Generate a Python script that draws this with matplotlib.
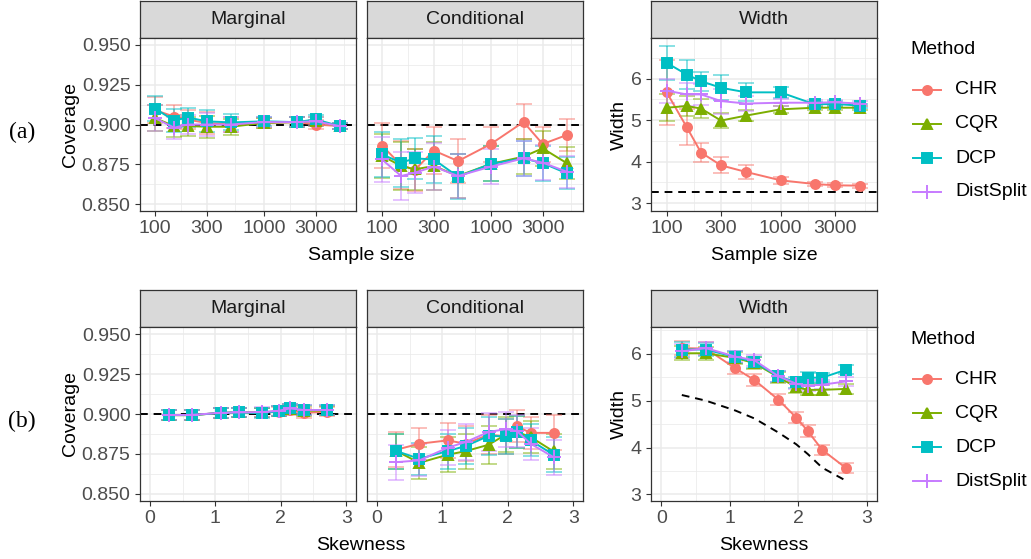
import numpy as np
import matplotlib.pyplot as plt
from matplotlib.lines import Line2D

plt.rcParams['font.family'] = ['Liberation Sans', 'DejaVu Sans']

# Méthodes et styles
methods = ['CHR', 'CQR', 'DCP', 'DistSplit']
colors = ['#F8766D', '#7CAE00', '#00BFC4', '#C77CFF']
markers = ['o', '^', 's', '+']

# (a) Taille d'échantillon
sample_size = [100, 150, 200, 300, 500, 1000, 2000, 3000, 5000]

a_marg = {
    'CHR': [0.909, 0.905, 0.903, 0.901, 0.900, 0.901, 0.9015, 0.900, 0.899],
    'CQR': [0.904, 0.899, 0.899, 0.8986, 0.8986, 0.901, 0.9015, 0.902, 0.899],
    'DCP': [0.910, 0.9025, 0.9044, 0.902, 0.9013, 0.902, 0.9015, 0.9032, 0.899],
    'DistSplit': [0.904, 0.898, 0.900, 0.900, 0.900, 0.9015, 0.9015, 0.902, 0.899],
}
a_marg_err = [0.008, 0.007, 0.006, 0.007, 0.005, 0.003, 0.003, 0.003, 0.002]

a_cond = {
    'CHR': [0.8867, 0.8745, 0.8714, 0.8836, 0.877, 0.8877, 0.9016, 0.8877, 0.8934],
    'CQR': [0.8802, 0.874, 0.8718, 0.8739, 0.8676, 0.8752, 0.8798, 0.885, 0.8757],
    'DCP': [0.8812, 0.876, 0.8787, 0.878, 0.8672, 0.8752, 0.8787, 0.8757, 0.8693],
    'DistSplit': [0.878, 0.8676, 0.8697, 0.8735, 0.8676, 0.8735, 0.8787, 0.876, 0.8703],
}
a_cond_err = [0.014, 0.015, 0.013, 0.015, 0.014, 0.011, 0.011, 0.011, 0.010]

a_width = {
    'CHR': [5.67, 4.83, 4.22, 3.91, 3.75, 3.55, 3.46, 3.43, 3.42],
    'CQR': [5.30, 5.34, 5.28, 4.99, 5.11, 5.26, 5.30, 5.30, 5.30],
    'DCP': [6.38, 6.10, 5.94, 5.78, 5.67, 5.67, 5.38, 5.39, 5.35],
    'DistSplit': [5.71, 5.62, 5.62, 5.46, 5.40, 5.42, 5.42, 5.43, 5.40],
}
a_width_err = {
    'CHR': [0.78, 0.44, 0.23, 0.19, 0.16, 0.08, 0.05, 0.05, 0.05],
    'CQR': [0.32, 0.24, 0.22, 0.18, 0.14, 0.08, 0.05, 0.05, 0.05],
    'DCP': [0.41, 0.36, 0.23, 0.30, 0.22, 0.13, 0.06, 0.06, 0.05],
    'DistSplit': [0.29, 0.27, 0.26, 0.30, 0.18, 0.08, 0.06, 0.06, 0.06],
}
a_oracle = 3.28

# (b) Asymétrie
skewness = [0.30, 0.65, 1.08, 1.36, 1.71, 1.97, 2.14, 2.35, 2.70]

b_marg = {
    'CHR': [0.8993, 0.8993, 0.9007, 0.901, 0.901, 0.9015, 0.9025, 0.9007, 0.9015],
    'CQR': [0.8993, 0.8993, 0.9007, 0.901, 0.901, 0.9018, 0.9030, 0.9020, 0.9022],
    'DCP': [0.8993, 0.8993, 0.9007, 0.901, 0.9005, 0.9018, 0.9035, 0.9025, 0.9025],
    'DistSplit': [0.8993, 0.8995, 0.9007, 0.901, 0.9012, 0.9020, 0.9035, 0.9025, 0.9025],
}
b_marg_err = [0.003] * 9

b_cond = {
    'CHR': [0.8777, 0.8814, 0.8835, 0.8814, 0.8871, 0.886, 0.8923, 0.8882, 0.8882],
    'CQR': [0.8768, 0.8695, 0.8745, 0.8768, 0.8808, 0.8871, 0.8888, 0.8856, 0.8766],
    'DCP': [0.8768, 0.872, 0.8768, 0.880, 0.8863, 0.886, 0.8888, 0.8835, 0.8745],
    'DistSplit': [0.8699, 0.871, 0.8789, 0.8825, 0.8888, 0.8905, 0.8894, 0.8814, 0.873],
}
b_cond_err = [0.011, 0.010, 0.011, 0.011, 0.012, 0.011, 0.010, 0.010, 0.011]

b_width = {
    'CHR': [6.12, 6.11, 5.69, 5.44, 5.02, 4.64, 4.35, 3.95, 3.56],
    'CQR': [6.01, 6.01, 5.91, 5.80, 5.50, 5.29, 5.23, 5.23, 5.25],
    'DCP': [6.09, 6.09, 5.93, 5.82, 5.52, 5.39, 5.49, 5.49, 5.66],
    'DistSplit': [6.05, 6.12, 5.94, 5.86, 5.52, 5.36, 5.32, 5.34, 5.41],
}
b_width_err = [0.15, 0.14, 0.12, 0.12, 0.12, 0.12, 0.12, 0.10, 0.10]
b_oracle = [5.12, 5.00, 4.79, 4.62, 4.32, 4.07, 3.86, 3.57, 3.29]

# Figure en pixels
W, H = 1031, 559
fig = plt.figure(figsize=(W / 100, H / 100), dpi=100)
FS = 14
GREY = '#333333'


def box(x0, y0, x1, y1):
    return [x0 / W, 1 - y1 / H, (x1 - x0) / W, (y1 - y0) / H]


def fx(x):
    return x / W


def fy(y):
    return 1 - y / H


def make_panel(x0, x1, y_strip, y0, y1, title):
    sax = fig.add_axes(box(x0, y_strip, x1, y0))
    sax.set_facecolor('#D9D9D9')
    sax.set_xticks([])
    sax.set_yticks([])
    for s in sax.spines.values():
        s.set_color(GREY)
        s.set_linewidth(0.9)
    sax.text(0.5, 0.5, title, ha='center', va='center', fontsize=FS, color='#1A1A1A')
    ax = fig.add_axes(box(x0, y0, x1, y1))
    for s in ax.spines.values():
        s.set_color(GREY)
        s.set_linewidth(0.9)
    ax.set_axisbelow(True)
    ax.grid(True, which='major', color='#EBEBEB', lw=1.1)
    ax.grid(True, which='minor', color='#EBEBEB', lw=0.55)
    ax.tick_params(which='major', length=3.8, width=0.8, color=GREY,
                   labelsize=FS, labelcolor='#4D4D4D', pad=3)
    ax.tick_params(which='minor', length=0)
    return ax


def draw_series(ax, x, data, err):
    for m, c, mk in zip(methods, colors, markers):
        e = err[m] if isinstance(err, dict) else err
        ax.errorbar(x, data[m], yerr=e, fmt='none', ecolor=c, alpha=0.5,
                    capsize=5.5, elinewidth=1.3, capthick=1.3)
    for m, c, mk in zip(methods, colors, markers):
        ms = 9.5 if mk == '+' else 6.5
        ax.plot(x, data[m], color=c, lw=1.4, marker=mk, ms=ms, mew=1.4)


def setup_log_x(ax):
    ax.set_xscale('log')
    ax.set_xlim(10 ** 1.862, 10 ** 3.848)
    ax.set_xticks([100, 300, 1000, 3000])
    ax.set_xticklabels(['100', '300', '1000', '3000'])
    ax.set_xticks([10 ** 2.239, 10 ** 2.739, 10 ** 3.239, 10 ** 3.739], minor=True)
    ax.xaxis.set_minor_formatter(plt.NullFormatter())


def setup_skew_x(ax):
    ax.set_xlim(-0.15, 3.15)
    ax.set_xticks([0, 1, 2, 3])
    ax.set_xticks([0.5, 1.5, 2.5], minor=True)


def setup_cov_y(ax, labels=True):
    ax.set_ylim(0.8456, 0.9544)
    ax.set_yticks([0.85, 0.875, 0.9, 0.925, 0.95])
    ax.set_yticks([0.8625, 0.8875, 0.9125, 0.9375], minor=True)
    if labels:
        ax.set_yticklabels(['0.850', '0.875', '0.900', '0.925', '0.950'])
    else:
        ax.tick_params(axis='y', which='both', length=0, labelleft=False)


def setup_width_y(ax, lo, hi):
    ax.set_ylim(lo, hi)
    ax.set_yticks([3, 4, 5, 6])
    ax.set_yticks([3.5, 4.5, 5.5, 6.5], minor=True)


rows = [
    dict(xs=sample_size, setx=setup_log_x, xlabel='Sample size', tag='(a)',
         ys=1, y0=38, y1=211, marg=a_marg, merr=a_marg_err, cond=a_cond, cerr=a_cond_err,
         width=a_width, werr=a_width_err, wlim=(2.81, 6.98)),
    dict(xs=skewness, setx=setup_skew_x, xlabel='Skewness', tag='(b)',
         ys=290, y0=327, y1=501, marg=b_marg, merr=b_marg_err, cond=b_cond, cerr=b_cond_err,
         width=b_width, werr=b_width_err, wlim=(2.86, 6.57)),
]

for i, r in enumerate(rows):
    # Marginal
    ax = make_panel(140, 356, r['ys'], r['y0'], r['y1'], 'Marginal')
    r['setx'](ax)
    setup_cov_y(ax)
    ax.axhline(0.9, color='black', ls=(0, (4, 3)), lw=1.4, zorder=1.5)
    draw_series(ax, r['xs'], r['marg'], r['merr'])
    ax.set_ylabel('Coverage', fontsize=FS, labelpad=2)

    # Conditional
    ax = make_panel(367, 583, r['ys'], r['y0'], r['y1'], 'Conditional')
    r['setx'](ax)
    setup_cov_y(ax, labels=False)
    ax.axhline(0.9, color='black', ls=(0, (4, 3)), lw=1.4, zorder=1.5)
    draw_series(ax, r['xs'], r['cond'], r['cerr'])

    # Width
    ax = make_panel(651, 877, r['ys'], r['y0'], r['y1'], 'Width')
    r['setx'](ax)
    setup_width_y(ax, *r['wlim'])
    if i == 0:
        ax.axhline(a_oracle, color='black', ls=(0, (4, 3)), lw=1.4, zorder=1.5)
    else:
        ax.plot(skewness, b_oracle, color='black', ls=(0, (4, 3)), lw=1.4, zorder=1.5)
    draw_series(ax, r['xs'], r['width'], r['werr'])
    ax.set_ylabel('Width', fontsize=FS, labelpad=2)

    # Titres d'axe x
    ylab = fy(r['y1'] + 44)
    fig.text(fx(361), ylab, r['xlabel'], ha='center', va='center', fontsize=FS)
    fig.text(fx(764), ylab, r['xlabel'], ha='center', va='center', fontsize=FS)

    # Étiquette de ligne
    fig.text(fx(22), fy(r['y0'] + 94), r['tag'], ha='center', va='center',
             fontsize=17, family=['Liberation Serif', 'DejaVu Serif'])

    # Légende (dessinée à la main)
    top = r['y0'] + 12
    fig.text(fx(910), fy(top), 'Method', ha='left', va='center', fontsize=FS)
    for k, (m, c, mk) in enumerate(zip(methods, colors, markers)):
        yk = fy(top + 40 + 34 * k)
        ms = 9.5 if mk == '+' else 6.5
        fig.add_artist(Line2D([fx(913), fx(941)], [yk, yk], color=c, lw=1.4,
                              transform=fig.transFigure))
        fig.add_artist(Line2D([fx(927)], [yk], color=c, marker=mk, ms=ms, mew=1.4,
                              transform=fig.transFigure))
        fig.text(fx(955), yk, m, ha='left', va='center', fontsize=FS)

fig.savefig('out.png', dpi=100)
